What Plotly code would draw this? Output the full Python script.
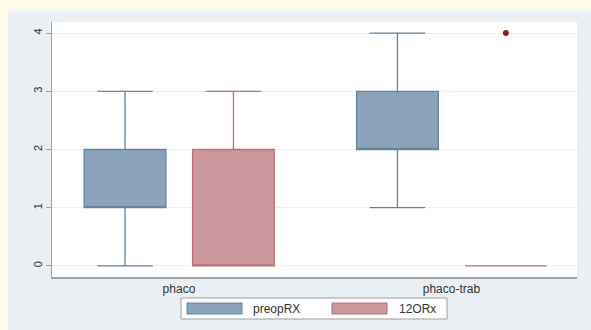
import plotly.graph_objects as go

categories = ["phaco", "phaco-trab"]
series_names = ["preopRX", "12ORx"]
# per series: values for each category
q1 = {"preopRX": [1, 2], "12ORx": [0, 0]}
median = {"preopRX": [1, 2], "12ORx": [0, 0]}
q3 = {"preopRX": [2, 3], "12ORx": [2, 0]}
lowerfence = {"preopRX": [0, 1], "12ORx": [0, 0]}
upperfence = {"preopRX": [3, 4], "12ORx": [3, 0]}
outlier_cat = [1]
outlier_val = [4]
y_ticks = [0, 1, 2, 3, 4]

fill = {"preopRX": "#8ca2b9", "12ORx": "#c9979c"}
edge = {"preopRX": "#6383a3", "12ORx": "#bd6f77"}
offsets = {"preopRX": -0.198, "12ORx": 0.2}

fig = go.Figure()
for s in series_names:
    xs = [i + offsets[s] for i in range(len(categories))]
    fig.add_trace(go.Box(
        x=xs, q1=q1[s], median=median[s], q3=q3[s],
        lowerfence=lowerfence[s], upperfence=upperfence[s],
        width=0.30, whiskerwidth=0.68,
        fillcolor=fill[s], line=dict(color=edge[s], width=1.3),
        boxpoints=False, name=s, showlegend=False,
    ))

fig.add_trace(go.Scatter(
    x=[c + offsets["12ORx"] for c in outlier_cat], y=outlier_val,
    mode="markers", marker=dict(color="#8b1c1c", size=6),
    showlegend=False, hoverinfo="skip",
))

font = dict(family="Liberation Sans, Arial, sans-serif", size=11, color="#333")

fig.update_layout(
    width=591, height=330,
    margin=dict(l=52, r=14, t=22, b=53),
    paper_bgcolor="#e9eff3",
    plot_bgcolor="white",
    font=font,
    xaxis=dict(
        range=[-0.466, 1.461], tickmode="array",
        tickvals=list(range(len(categories))), ticktext=categories,
        showgrid=False, zeroline=False, showline=True,
        linecolor="#a0a4a8", linewidth=1.5, ticks="",
        tickfont=dict(size=12, color="#333"),
    ),
    yaxis=dict(
        range=[-0.19, 4.19], tickvals=y_ticks, tickangle=-90,
        showgrid=True, gridcolor="#edf1f4", gridwidth=1,
        zeroline=False, showline=True, linecolor="#a0a4a8", linewidth=1,
        ticks="outside", ticklen=5, tickcolor="#a0a4a8",
        tickfont=dict(size=11, color="#333"),
    ),
    showlegend=False,
)

W, H = 591.0, 330.0
pl, pr, pt, pb = 52.0, 14.0, 22.0, 53.0
pw, ph = W - pl - pr, H - pt - pb

def px_to_paper(x, y):
    return (x - pl) / pw, (H - pb - y) / ph

shapes = []
x0, y0 = px_to_paper(0, 0)
x1, y1 = px_to_paper(W, 10)
shapes.append(dict(type="rect", xref="paper", yref="paper", x0=x0, x1=x1, y0=y1, y1=y0,
                   fillcolor="#fffbea", line=dict(width=0), layer="below"))
x0, y0 = px_to_paper(0, 0)
x1, y1 = px_to_paper(8, H)
shapes.append(dict(type="rect", xref="paper", yref="paper", x0=x0, x1=x1, y0=y1, y1=y0,
                   fillcolor="#fffbea", line=dict(width=0), layer="below"))
x0, y0 = px_to_paper(8, 10)
x1, y1 = px_to_paper(W, 13)
shapes.append(dict(type="rect", xref="paper", yref="paper", x0=x0, x1=x1, y0=y1, y1=y0,
                   fillcolor="#f3f7f9", line=dict(width=0), layer="below"))

# manual legend
lx0, ly0 = px_to_paper(181, 298)
lx1, ly1 = px_to_paper(447, 319)
shapes.append(dict(type="rect", xref="paper", yref="paper", x0=lx0, x1=lx1, y0=ly1, y1=ly0,
                   fillcolor="white", line=dict(color="#9a9ea2", width=1)))
swatches = {"preopRX": (187, 242), "12ORx": (332, 387)}
label_x = {"preopRX": 251, "12ORx": 397}
annotations = []
for s in series_names:
    a, b = swatches[s]
    sx0, sy0 = px_to_paper(a, 303)
    sx1, sy1 = px_to_paper(b, 314)
    shapes.append(dict(type="rect", xref="paper", yref="paper", x0=sx0, x1=sx1, y0=sy1, y1=sy0,
                       fillcolor=fill[s], line=dict(color=edge[s], width=1)))
    tx, ty = px_to_paper(label_x[s], 308.5)
    annotations.append(dict(xref="paper", yref="paper", x=tx, y=ty, text=s,
                            showarrow=False, xanchor="left", yanchor="middle",
                            font=dict(size=12, color="#333")))

fig.update_layout(shapes=shapes, annotations=annotations)

fig.write_html(
    "out.html",
    config={"displayModeBar": False},
    post_script="document.body.style.margin='0';document.body.style.overflow='hidden';",
)
